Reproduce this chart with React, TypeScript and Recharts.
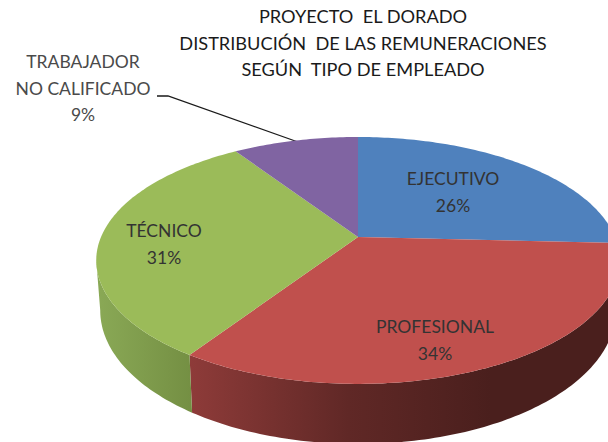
import React from "react";
import { PieChart, Pie, Cell } from "recharts";

const categories = ["EJECUTIVO", "PROFESIONAL", "TÉCNICO", "TRABAJADOR NO CALIFICADO"];
const shares = [25.8, 33.5, 31.4, 9.3];
const topColors = ["#4f81bd", "#c0504d", "#9bbb59", "#8064a2"];
const wallFills = ["#3b618d", "url(#wallRed)", "url(#wallGreen)", "#604a7b"];
const titleLines = ["PROYECTO  EL DORADO", "DISTRIBUCIÓN  DE LAS REMUNERACIONES", "SEGÚN  TIPO DE EMPLEADO"];
const labelLines = [["EJECUTIVO"], ["PROFESIONAL"], ["TÉCNICO"], ["TRABAJADOR", "NO CALIFICADO"]];
const labelCentres = [[453, 179], [435, 327], [164, 231], [83, 62]];

const FONT = "Lato, 'Open Sans', sans-serif";
const W = 608;
const H = 442;
const CX = 358;
const CY = 237;
const R = 100;

// Perspective of the tilted disc
const PERSP = { a: 257, b: 119, k: 0.19 };
// Outer rim of the top face, and the rim of the lower face
const RIM = { cy: 260, rx: 262, ry: 123.5 };
const LOWER = { cy: 310, rx: 258, ry: 133.5 };

const rad = (d: number) => (d * Math.PI) / 180;

function project(angle: number) {
  const u = Math.cos(rad(angle));
  const w = -Math.sin(rad(angle));
  const d = 1 - PERSP.k * w;
  return { x: CX + (PERSP.a * u) / d, y: CY + (PERSP.b * w) / d };
}

function lower(p: { x: number; y: number }) {
  return {
    x: CX + (LOWER.rx * (p.x - CX)) / RIM.rx,
    y: LOWER.cy + (LOWER.ry * (p.y - RIM.cy)) / RIM.ry,
  };
}

function SliceShape(props: any) {
  const { startAngle, endAngle, fill, index } = props;
  const steps = Math.max(2, Math.ceil(Math.abs(endAngle - startAngle)));
  const rim: { x: number; y: number }[] = [];
  for (let i = 0; i <= steps; i++) {
    rim.push(project(startAngle + ((endAngle - startAngle) * i) / steps));
  }
  const top = `M${CX},${CY} ` + rim.map((p) => `L${p.x.toFixed(2)},${p.y.toFixed(2)}`).join(" ") + " Z";
  const front = rim.filter((p) => p.y >= RIM.cy);
  let wall = "";
  if (front.length > 1) {
    const low = front.map(lower).reverse();
    wall =
      "M" +
      front.concat(low).map((p) => `${p.x.toFixed(2)},${p.y.toFixed(2)}`).join(" L") +
      " Z";
  }
  const idx = typeof index === "number" ? index : topColors.indexOf(fill);
  return (
    <g>
      {wall && <path d={wall} fill={wallFills[idx]} stroke="none" />}
      <path d={top} fill={fill} stroke="none" />
    </g>
  );
}

function SliceLabel(props: any) {
  const { index, percent } = props;
  const [x, y] = labelCentres[index];
  const lines = [...labelLines[index], `${Math.round(percent * 100)}%`];
  return (
    <text textAnchor="middle" fontFamily={FONT} fontSize={17.5} fontWeight={400} fill={index === 3 ? "#4a4a4a" : "#333333"}>
      {lines.map((l, i) => (
        <tspan key={i} x={x} y={y + 6 + i * 26.5}>
          {l}
        </tspan>
      ))}
    </text>
  );
}

const data = categories.map((name, i) => ({ name, value: shares[i] }));

export default function App() {
  return (
    <div style={{ position: "absolute", left: 0, top: 0, width: W, height: H, overflow: "hidden", background: "#fff" }}>
      <PieChart width={W} height={H} margin={{ top: 0, right: 0, bottom: 0, left: 0 }}>
        <defs>
          <linearGradient id="wallRed" x1="0" y1="0" x2="1" y2="0">
            <stop offset="0" stopColor="#8e3b39" />
            <stop offset="0.37" stopColor="#602826" />
            <stop offset="0.7" stopColor="#4a1f1d" />
            <stop offset="1" stopColor="#4a1f1d" />
          </linearGradient>
          <linearGradient id="wallGreen" x1="0" y1="0" x2="1" y2="0">
            <stop offset="0" stopColor="#8aa956" />
            <stop offset="1" stopColor="#748f43" />
          </linearGradient>
        </defs>
        <Pie
          data={data}
          dataKey="value"
          nameKey="name"
          cx={CX}
          cy={CY}
          innerRadius={0}
          outerRadius={R}
          startAngle={90}
          endAngle={-270}
          stroke="none"
          isAnimationActive={false}
          shape={SliceShape}
          inactiveShape={SliceShape}
          activeShape={SliceShape}
          label={SliceLabel}
          labelLine={false}
        >
          {data.map((d, i) => (
            <Cell key={d.name} fill={topColors[i]} />
          ))}
        </Pie>
        <text textAnchor="middle" fontFamily={FONT} fontSize={18.2} fill="#1a1a1a">
          {titleLines.map((l, i) => (
            <tspan key={i} x={363} y={23 + i * 26.5} xmlSpace="preserve">
              {l}
            </tspan>
          ))}
        </text>
        <polyline points="157,96 168,96 298,142" fill="none" stroke="#1a1a1a" strokeWidth={1.3} />
      </PieChart>
    </div>
  );
}
